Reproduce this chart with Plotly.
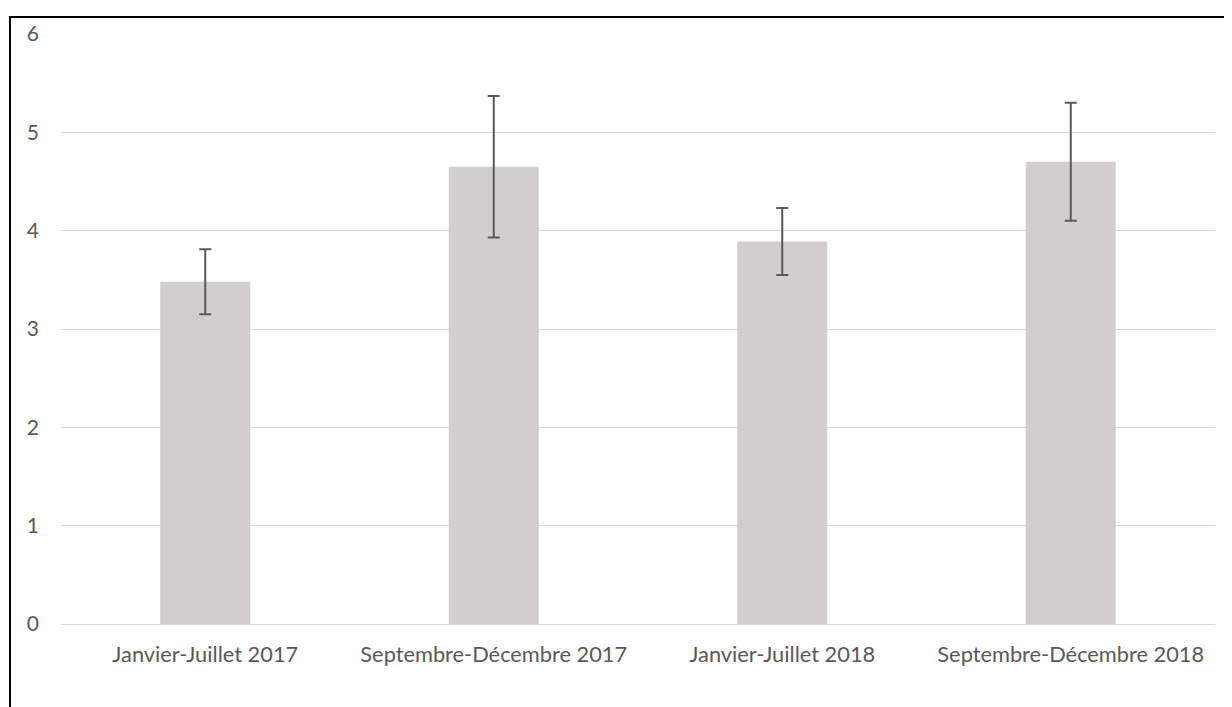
import plotly.graph_objects as go

categories = ["Janvier-Juillet 2017", "Septembre-Décembre 2017", "Janvier-Juillet 2018", "Septembre-Décembre 2018"]
values = [3.48, 4.65, 3.89, 4.70]
errors = [0.33, 0.72, 0.34, 0.60]
y_ticks = [0, 1, 2, 3, 4, 5, 6]

# page body has an 8px default margin; compensate
OFF = 8
W, H = 1232 - OFF, 707 - OFF
L, R, T, B = 61 - OFF, 17, 32 - OFF, 83
pw, ph = W - L - R, H - T - B

fig = go.Figure(go.Bar(
    x=categories, y=values,
    marker=dict(color="#D0CECE", line=dict(width=0)),
    error_y=dict(type="data", array=errors, visible=True, color="#595959", thickness=2, width=6),
))

frame_x0 = (10 - OFF - L) / pw
frame_y1 = (H - B - (15 - OFF)) / ph

fig.update_layout(
    width=W, height=H,
    margin=dict(l=L, r=R, t=T, b=B),
    paper_bgcolor="white", plot_bgcolor="white",
    bargap=0.688,
    showlegend=False,
    font=dict(family="Lato, 'Open Sans', sans-serif", size=21, color="#595959"),
    xaxis=dict(showgrid=False, showline=False, ticks="", tickfont=dict(size=21.8, color="#595959"),
               ticklabelstandoff=15),
    yaxis=dict(range=[0, 6], tickvals=y_ticks, showgrid=True, gridcolor="#D9D9D9", gridwidth=1.3,
               zeroline=True, zerolinecolor="#D9D9D9", zerolinewidth=1.3, showline=False, ticks="",
               tickfont=dict(size=21, color="#595959"), ticklabelstandoff=21),
    shapes=[dict(type="rect", xref="paper", yref="paper",
                 x0=frame_x0, x1=(W + 30 - L) / pw,
                 y0=-(B + 30) / ph, y1=frame_y1,
                 line=dict(color="black", width=2), fillcolor="rgba(0,0,0,0)", layer="above")],
)

fig.write_html("out.html")
